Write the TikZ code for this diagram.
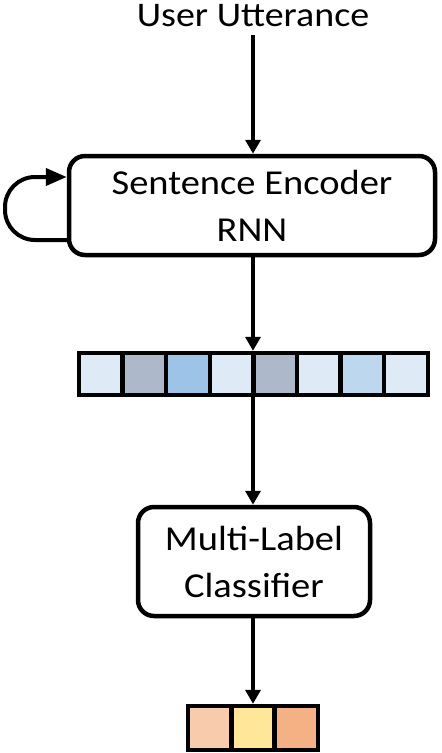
\documentclass[tikz,border=0pt]{standalone}
\usepackage{fontspec}
\setmainfont{Carlito}[FakeStretch=1.1]
\usetikzlibrary{arrows.meta}
\definecolor{cA}{HTML}{DEEBF7}
\definecolor{cB}{HTML}{ADB9CA}
\definecolor{cC}{HTML}{9DC3E6}
\definecolor{cD}{HTML}{BDD7EE}
\definecolor{oA}{HTML}{F8CBAD}
\definecolor{oB}{HTML}{FFE699}
\definecolor{oC}{HTML}{F4B183}
\tikzset{
  box/.style={draw, line width=4.5pt, rounded corners=16pt, align=center, inner sep=0pt,
    font=\fontsize{35}{47}\selectfont},
  arr/.style={line width=4pt, -{Triangle[width=15pt,length=14pt]}},
  looparr/.style={line width=4pt, -{Triangle[width=17pt,length=21pt]}},
  cell/.style={draw, line width=4.5pt, minimum width=43.6pt, minimum height=42pt, inner sep=0pt},
  ocell/.style={draw, line width=4.5pt, minimum width=43.3pt, minimum height=44pt, inner sep=0pt},
  lbl/.style={font=\fontsize{34.5}{40}\selectfont, inner sep=0pt}
}
\begin{document}
\begin{tikzpicture}[x=1pt,y=-1pt]
\useasboundingbox (0,0) rectangle (442,753);
\node[lbl, anchor=base] (utt) at (253,26) {User Utterance};
\node[box, minimum width=366pt, minimum height=99pt] (enc) at (252,205.5) {Sentence Encoder\\RNN};
% vector
\node[minimum width=353pt, minimum height=46pt, inner sep=0pt] (vec) at (253.5,374) {};
\foreach \c [count=\i] in {cA,cB,cC,cA,cB,cA,cD,cA}{
  \node[cell, fill=\c] (v\i) at ({79+(\i-0.5)*43.6},374) {};
}
\node[box, minimum width=232pt, minimum height=109pt] (cls) at (254,561.5) {Multi-Label\\Classifier};
% output
\node[minimum width=134pt, minimum height=48pt, inner sep=0pt] (out) at (253,728) {};
\foreach \c [count=\i] in {oA,oB,oC}{
  \node[ocell, fill=\c] (o\i) at ({188+(\i-0.5)*43.3},728) {};
}
% connectors
\draw[arr] (utt.south -| 253,0) ++(0,9) coordinate (u0) (u0) -- (enc.north -| u0);
\draw[arr] (enc.south -| 253,0) -- (vec.north -| 253,0);
\draw[arr] (vec.south -| 253,0) -- (cls.north -| 253,0);
\draw[arr] (cls.south -| 253,0) -- (out.north -| 253,0);
\draw[looparr, rounded corners=30pt] (enc.west |- 0,240) -| (5,177) -- (enc.west |- 0,177);
\end{tikzpicture}
\end{document}
